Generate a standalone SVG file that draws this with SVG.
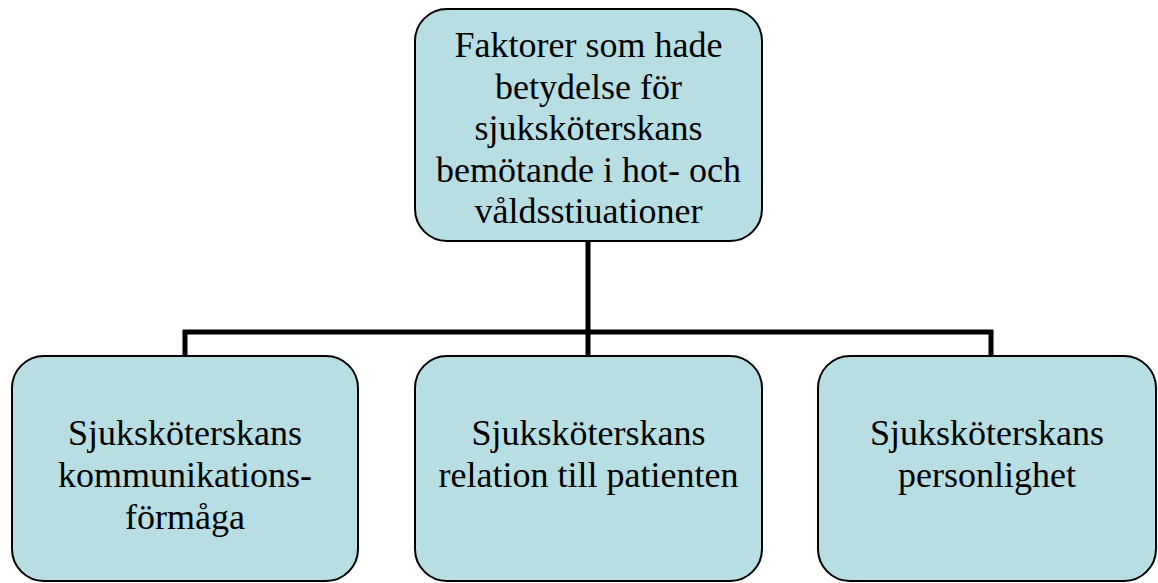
<svg xmlns="http://www.w3.org/2000/svg" width="1158" height="583" viewBox="0 0 1158 583">
<style>
.box{fill:#B7DEE2;stroke:#000;stroke-width:2}
.t{font-size:36px;fill:#000;text-anchor:middle}
.c{fill:none;stroke:#000;stroke-width:5}
</style>
<rect width="1158" height="583" fill="#fff"/>
<g id="connectors">
<line class="c" x1="588" y1="241" x2="588" y2="357"/>
<polyline class="c" points="185,357 185,332 991,332 991,357"/>
</g>
<g font-family="'Liberation Serif', 'Times New Roman', 'DejaVu Serif', serif">
<g id="root">
<rect class="box" x="415" y="9" width="347" height="232" rx="32"/>
<text class="t" x="588.5" y="57">Faktorer som hade</text>
<text class="t" x="588.5" y="98.5">betydelse för</text>
<text class="t" x="588.5" y="140">sjuksköterskans</text>
<text class="t" x="588.5" y="181.5">bemötande i hot- och</text>
<text class="t" x="588.5" y="223">våldsstiuationer</text>
</g>
<g id="kommunikation">
<rect class="box" x="12" y="356" width="346" height="225" rx="32"/>
<text class="t" x="185" y="445">Sjuksköterskans</text>
<text class="t" x="185" y="487">kommunikations-</text>
<text class="t" x="185" y="529">förmåga</text>
</g>
<g id="relation">
<rect class="box" x="415" y="356" width="347" height="225" rx="32"/>
<text class="t" x="588.5" y="445">Sjuksköterskans</text>
<text class="t" x="588.5" y="487">relation till patienten</text>
</g>
<g id="personlighet">
<rect class="box" x="818" y="356" width="338" height="225" rx="32"/>
<text class="t" x="987" y="445">Sjuksköterskans</text>
<text class="t" x="987" y="487">personlighet</text>
</g>
</g>
</svg>
